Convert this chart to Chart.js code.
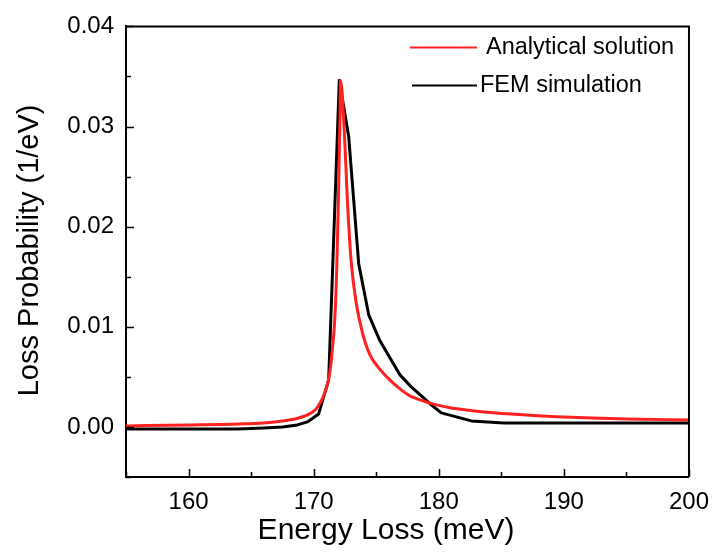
<!DOCTYPE html>
<html>
<head>
<meta charset="utf-8">
<script src="https://cdn.jsdelivr.net/npm/chart.js@4.4.1/dist/chart.umd.min.js"></script>
<style>
  html, body { margin: 0; padding: 0; background: #fff; }
  #wrap { width: 720px; height: 556px; }
</style>
</head>
<body>
<div id="wrap"><canvas id="eels" width="720" height="556"></canvas></div>
<script>
// values
const analyticalX = [155, 160, 164, 166, 167.5, 168.5, 169.5, 170.2, 170.6, 171.0, 171.3, 171.5, 171.7, 171.85, 172.0, 172.1, 172.15,
    172.45, 172.7, 173.0, 173.4, 173.9, 174.5, 175.2, 176.0, 176.8, 177.7, 178.5, 179.5, 181, 182.2, 184.6, 187, 190, 195, 200];
const analyticalY = [0.0001, 0.0002, 0.0003, 0.0004, 0.0006, 0.0008, 0.0012, 0.0018, 0.0026, 0.0038, 0.0055, 0.0078, 0.011, 0.016, 0.024, 0.031, 0.0346,
    0.0295, 0.0225, 0.0165, 0.0124, 0.0094, 0.0072, 0.0059, 0.0048, 0.0039, 0.0031, 0.0027, 0.0023, 0.0019, 0.0017, 0.0014, 0.0012, 0.0010, 0.0008, 0.0007];

const femX = [155, 160, 164, 166, 167.5, 168.7, 169.5, 170.4, 171.2, 172.05, 172.8, 173.6, 174.4, 175.3, 176.0, 176.9,
    177.8, 178.7, 179.4, 180.2, 182.6, 185.2, 200];
const femY = [-0.0002, -0.0002, -0.0002, -0.0001, 0.0000, 0.0002, 0.0005, 0.0013, 0.0047, 0.0346, 0.0290, 0.0163, 0.0112, 0.0086, 0.0071, 0.0052,
    0.0040, 0.0030, 0.0022, 0.0014, 0.0006, 0.0004, 0.0004];

const seriesNames = ['Analytical solution', 'FEM simulation'];
const seriesColors = ['#ff2020', '#000000'];

const xMajor = [160, 170, 180, 190, 200];
const xMinor = [155, 165, 175, 185, 195];
const yMajor = [0.00, 0.01, 0.02, 0.03, 0.04];
const yMinor = [-0.005, 0.005, 0.015, 0.025, 0.035];

const xTitle = 'Energy Loss (meV)';
const yTitle = 'Loss Probability (1/eV)';

const FONT = 'Liberation Sans, Arial, sans-serif';

function toPoints(xs, ys) {
    return xs.map((x, i) => ({ x: x, y: ys[i] }));
}

// inward tick marks plus closed frame, like the original plot
const framePlugin = {
    id: 'frame',
    afterDraw(chart) {
        const ctx = chart.ctx;
        const a = chart.chartArea;
        const xs = chart.scales.x;
        const ys = chart.scales.y;
        ctx.save();
        ctx.strokeStyle = '#000';
        ctx.lineWidth = 2;
        ctx.beginPath();
        ctx.moveTo(a.left, a.top);
        ctx.lineTo(a.right, a.top);
        ctx.lineTo(a.right, a.bottom);
        ctx.stroke();

        ctx.lineWidth = 1.5;
        ctx.beginPath();
        xMajor.forEach(v => {
            const p = Math.round(xs.getPixelForValue(v)) + 0.5;
            ctx.moveTo(p, a.bottom);
            ctx.lineTo(p, a.bottom - 8);
        });
        xMinor.forEach(v => {
            const p = Math.round(xs.getPixelForValue(v)) + 0.5;
            ctx.moveTo(p, a.bottom);
            ctx.lineTo(p, a.bottom - 5);
        });
        yMajor.forEach(v => {
            const p = Math.round(ys.getPixelForValue(v)) + 0.5;
            ctx.moveTo(a.left, p);
            ctx.lineTo(a.left + 8, p);
        });
        yMinor.forEach(v => {
            const p = Math.round(ys.getPixelForValue(v)) + 0.5;
            ctx.moveTo(a.left, p);
            ctx.lineTo(a.left + 5, p);
        });
        ctx.stroke();

        // axis titles (the x title sits a bit left of the plot centre in the original)
        ctx.fillStyle = '#000';
        ctx.font = '30px ' + FONT;
        ctx.textAlign = 'center';
        ctx.textBaseline = 'alphabetic';
        ctx.fillText(xTitle, a.left + 260, 539);
        ctx.font = '29px ' + FONT;
        ctx.translate(30, a.top + 224);
        ctx.rotate(-Math.PI / 2);
        ctx.textBaseline = 'middle';
        ctx.fillText(yTitle, 0, 0);
        ctx.restore();
    }
};

// legend drawn in the top right corner of the plot
const legendPlugin = {
    id: 'cornerLegend',
    afterDraw(chart) {
        const ctx = chart.ctx;
        const a = chart.chartArea;
        const rows = [
            { y: a.top + 21, x0: a.left + 284, x1: a.left + 351, tx: a.left + 360 },
            { y: a.top + 59, x0: a.left + 286, x1: a.left + 351, tx: a.left + 354 },
        ];
        ctx.save();
        ctx.font = '23.5px ' + FONT;
        ctx.textBaseline = 'middle';
        ctx.fillStyle = '#000';
        rows.forEach((r, i) => {
            ctx.strokeStyle = seriesColors[i];
            ctx.lineWidth = 2;
            ctx.beginPath();
            ctx.moveTo(r.x0, r.y);
            ctx.lineTo(r.x1, r.y);
            ctx.stroke();
            ctx.fillText(seriesNames[i], r.tx, r.y);
        });
        ctx.restore();
    }
};

new Chart(document.getElementById('eels'), {
    type: 'line',
    data: {
        datasets: [
            {
                label: seriesNames[0],
                data: toPoints(analyticalX, analyticalY),
                borderColor: seriesColors[0],
                borderWidth: 3,
                borderJoinStyle: 'round',
                pointRadius: 0,
                cubicInterpolationMode: 'monotone',
                fill: false,
            },
            {
                label: seriesNames[1],
                data: toPoints(femX, femY),
                borderColor: seriesColors[1],
                borderWidth: 3,
                borderJoinStyle: 'round',
                pointRadius: 0,
                tension: 0,
                fill: false,
            },
        ]
    },
    options: {
        responsive: false,
        animation: false,
        layout: {
            padding: { top: 20, right: 25, left: 0, bottom: 0 },
        },
        plugins: {
            legend: { display: false },
            tooltip: { enabled: false },
        },
        scales: {
            x: {
                type: 'linear',
                min: 155,
                max: 200,
                afterBuildTicks: (scale) => {
                    scale.ticks = xMajor.map(v => ({ value: v }));
                },
                afterFit: (scale) => {
                    scale.height = 79;
                },
                grid: { display: false, drawTicks: false },
                border: { display: true, color: '#000', width: 2 },
                ticks: {
                    color: '#000',
                    padding: 11,
                    font: { family: FONT, size: 24 },
                    callback: (v) => String(v),
                },
            },
            y: {
                type: 'linear',
                min: -0.005,
                max: 0.04,
                afterBuildTicks: (scale) => {
                    scale.ticks = yMajor.map(v => ({ value: v }));
                },
                afterFit: (scale) => {
                    scale.width = 126;
                },
                grid: { display: false, drawTicks: false },
                border: { display: true, color: '#000', width: 2 },
                ticks: {
                    color: '#000',
                    padding: 12,
                    font: { family: FONT, size: 24 },
                    callback: (v) => v.toFixed(2),
                },
            },
        },
    },
    plugins: [framePlugin, legendPlugin],
});
</script>
</body>
</html>
